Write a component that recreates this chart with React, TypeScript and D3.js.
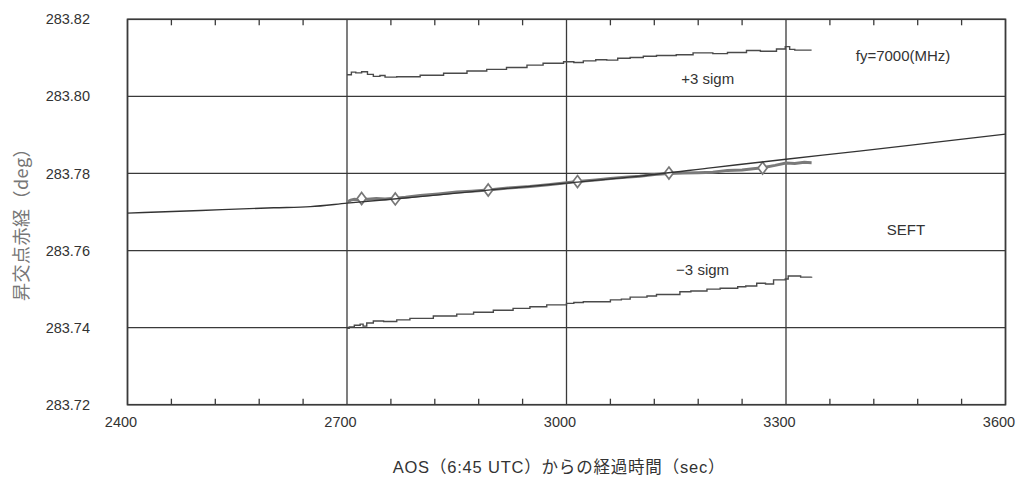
import React from "react";
import * as d3 from "d3";

// ---- data ----
const xTicks = [2400, 2700, 3000, 3300, 3600];
const yTicks = [283.72, 283.74, 283.76, 283.78, 283.8, 283.82];
const minorXTicks = [2460, 2520, 2580, 2640, 2760, 2820, 2880, 2940, 3060, 3120, 3180, 3240, 3360, 3420, 3480, 3540];

// SEFT predicted line
const seftT = [2400, 2500, 2600, 2650, 2700, 2800, 2900, 3000, 3100, 3200, 3300, 3400, 3500, 3600];
const seftV = [283.7697, 283.7704, 283.7711, 283.7714, 283.7723, 283.7740, 283.7758, 283.7775, 283.7793, 283.7815, 283.7837, 283.7858, 283.7880, 283.7902];

// measured values
const measT = [2700, 2705, 2710, 2716, 2720, 2728, 2740, 2752, 2766, 2780, 2800, 2825, 2850, 2870, 2893, 2920, 2950, 2975, 3000, 3015, 3040, 3060, 3080, 3100, 3120, 3140, 3160, 3180, 3200, 3220, 3240, 3255, 3268, 3285, 3300, 3312, 3325, 3335];
const measV = [283.7726, 283.7731, 283.7733, 283.7732, 283.7735, 283.7733, 283.7735, 283.7734, 283.7736, 283.7738, 283.7743, 283.7747, 283.7752, 283.7754, 283.7757, 283.7762, 283.7766, 283.7771, 283.7776, 283.7779, 283.7783, 283.7787, 283.7790, 283.7793, 283.7797, 283.7800, 283.7801, 283.7802, 283.7803, 283.7808, 283.7809, 283.7812, 283.7815, 283.7821, 283.7827, 283.7826, 283.7829, 283.7828];

// diamond markers
const markT = [2720, 2766, 2893, 3015, 3140, 3268];
const markV = [283.7735, 283.7734, 283.7757, 283.7779, 283.7801, 283.7814];

// +3 sigma
const upT = [2700, 2706, 2712, 2720, 2728, 2736, 2745, 2752, 2768, 2800, 2832, 2864, 2891, 2918, 2946, 2968, 2996, 3010, 3023, 3040, 3055, 3070, 3087, 3105, 3123, 3150, 3173, 3200, 3220, 3246, 3265, 3287, 3299, 3305, 3312, 3335];
const upV = [283.8056, 283.8063, 283.8061, 283.8064, 283.8057, 283.8052, 283.8054, 283.8050, 283.8051, 283.8055, 283.8060, 283.8066, 283.8070, 283.8075, 283.8081, 283.8086, 283.8090, 283.8088, 283.8092, 283.8095, 283.8094, 283.8099, 283.8101, 283.8104, 283.8106, 283.8108, 283.8113, 283.8111, 283.8114, 283.8119, 283.8117, 283.8123, 283.8129, 283.8122, 283.8120, 283.8120];

// -3 sigma
const loT = [2700, 2703, 2710, 2718, 2722, 2727, 2736, 2750, 2768, 2786, 2818, 2850, 2873, 2900, 2927, 2950, 2973, 3000, 3010, 3023, 3060, 3075, 3087, 3110, 3123, 3155, 3170, 3192, 3210, 3234, 3245, 3260, 3272, 3283, 3299, 3303, 3320, 3335];
const loV = [283.7398, 283.7402, 283.7406, 283.7409, 283.7404, 283.7412, 283.7417, 283.7416, 283.7420, 283.7424, 283.7430, 283.7435, 283.7440, 283.7445, 283.7450, 283.7454, 283.7459, 283.7463, 283.7465, 283.7467, 283.7472, 283.7474, 283.7479, 283.7482, 283.7486, 283.7493, 283.7495, 283.7500, 283.7502, 283.7506, 283.7508, 283.7515, 283.7513, 283.7524, 283.7526, 283.7534, 283.7531, 283.7532];

const labelTexts = ["fy=7000(MHz)", "+3 sigm", "SEFT", "\u22123 sigm"];
const labelT = [3460, 3193, 3464, 3186];
const labelV = [283.8092, 283.8032, 283.7640, 283.7537];

const W = 1020;
const H = 480;
const left = 127.5;
const right = 1005.5;
const top = 19.3;
const bottom = 404.7;

export default function App() {
  const x = d3.scaleLinear().domain([2400, 3600]).range([left, right]);
  const y = d3.scaleLinear().domain([283.72, 283.82]).range([bottom, top]);

  const zip = (ts: number[], vs: number[]) => ts.map((t, i) => [t, vs[i]] as [number, number]);
  const smooth = d3.line<[number, number]>().x(d => x(d[0])).y(d => y(d[1])).curve(d3.curveMonotoneX);
  const step = d3.line<[number, number]>().x(d => x(d[0])).y(d => y(d[1])).curve(d3.curveStepAfter);
  const plain = d3.line<[number, number]>().x(d => x(d[0])).y(d => y(d[1]));

  const ink = "#3a3a3a";
  const font = "'Liberation Sans', Arial, 'Noto Sans CJK JP', sans-serif";

  return (
    <svg width={W} height={H} style={{ position: "absolute", left: 0, top: 0, background: "#fff" }}>
      <rect x={0} y={0} width={W} height={H} fill="#fff" />
      {/* horizontal grid */}
      {yTicks.map(v => (
        <line key={"gy" + v} x1={left} x2={right} y1={y(v)} y2={y(v)} stroke={ink} strokeWidth={1.3} />
      ))}
      {/* vertical grid */}
      {xTicks.map(t => (
        <line key={"gx" + t} x1={x(t)} x2={x(t)} y1={top} y2={bottom} stroke={ink} strokeWidth={1.3} />
      ))}
      {/* minor ticks */}
      {minorXTicks.map(t => (
        <g key={"m" + t}>
          <line x1={x(t)} x2={x(t)} y1={top} y2={top + 6} stroke={ink} strokeWidth={1.3} />
          <line x1={x(t)} x2={x(t)} y1={bottom} y2={bottom - 6} stroke={ink} strokeWidth={1.3} />
        </g>
      ))}
      {/* frame */}
      <rect x={left} y={top} width={right - left} height={bottom - top} fill="none" stroke={ink} strokeWidth={1.6} />

      {/* sigma lines */}
      <path d={step(zip(upT, upV)) || ""} fill="none" stroke="#4a4a4a" strokeWidth={1.4} />
      <path d={step(zip(loT, loV)) || ""} fill="none" stroke="#4a4a4a" strokeWidth={1.4} />

      {/* measured */}
      <path d={plain(zip(measT, measV)) || ""} fill="none" stroke="#7a7a7a" strokeWidth={3} />
      {markT.map((t, i) => {
        const cx = x(t);
        const cy = y(markV[i]);
        return (
          <path key={"d" + t} d={`M${cx},${cy - 6}L${cx + 4.5},${cy}L${cx},${cy + 6}L${cx - 4.5},${cy}Z`} fill="#fff" stroke="#777" strokeWidth={1.7} />
        );
      })}
      {/* SEFT line */}
      <path d={smooth(zip(seftT, seftV)) || ""} fill="none" stroke="#333" strokeWidth={1.4} />

      {/* y tick labels */}
      {yTicks.map(v => (
        <text key={"ty" + v} x={90} y={y(v)} dy="0.35em" textAnchor="end" fontSize={14.5} fontFamily={font} fill="#333">
          {v.toFixed(2)}
        </text>
      ))}
      {/* x tick labels */}
      {xTicks.map(t => (
        <text key={"tx" + t} x={x(t) - 6.5} y={427} textAnchor="middle" fontSize={14.5} fontFamily={font} fill="#333">
          {t}
        </text>
      ))}

      {labelTexts.map((s, i) => (
        <text key={s} x={x(labelT[i])} y={y(labelV[i])} textAnchor="middle" fontSize={15} fontFamily={font} fill="#333">
          {s}
        </text>
      ))}

      {/* axis titles */}
      <text x={559} y={473} textAnchor="middle" fontSize={16.5} letterSpacing={0.8} fontFamily={font} fill="#333">
        AOS（6:45 UTC）からの経過時間（sec）
      </text>
      <text transform="translate(28,220) rotate(-90)" textAnchor="middle" fontSize={18} letterSpacing={0.5} fontFamily="'Noto Sans CJK JP', sans-serif" fill="#777">
        昇交点赤経（deg）
      </text>
    </svg>
  );
}
